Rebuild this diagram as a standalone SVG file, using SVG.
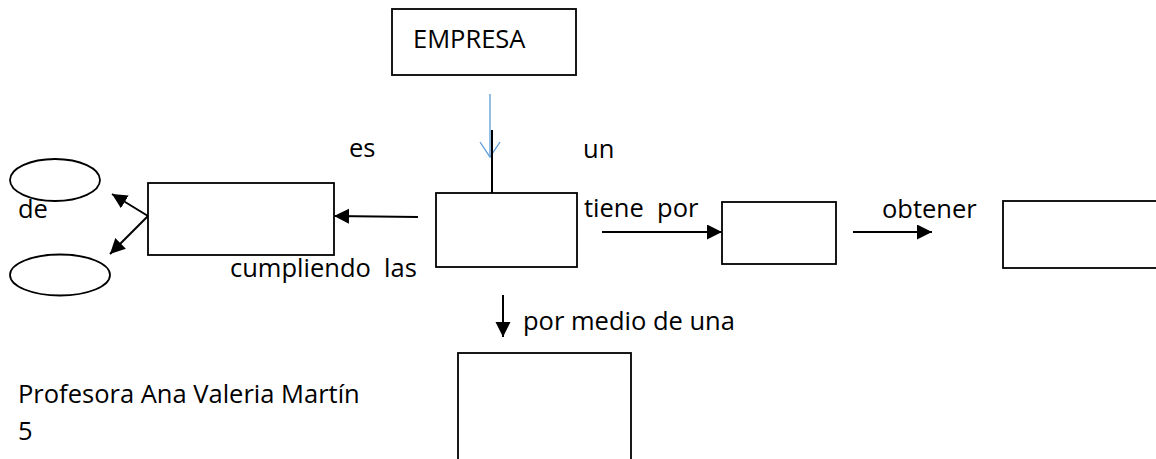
<svg xmlns="http://www.w3.org/2000/svg" width="1156" height="459" viewBox="0 0 1156 459">
<style>
  .box { fill: #ffffff; stroke: #000000; stroke-width: 1.8; }
  .lbl { font-family: "Open Sans", "Noto Sans", sans-serif; font-size: 25.5px; fill: #000000; white-space: pre; }
  .conn { stroke: #000000; stroke-width: 2; fill: none; }
  .blue { stroke: #5b9bd5; stroke-width: 1.3; fill: none; }
</style>
<defs>
  <marker id="arr" markerUnits="userSpaceOnUse" markerWidth="16" markerHeight="16" refX="15" refY="7.5" orient="auto" viewBox="0 0 16 16">
    <path d="M0,0 L15,7.5 L0,15 z" fill="#000000"/>
  </marker>
</defs>
<rect width="1156" height="459" fill="#ffffff"/>

<g id="connectors">
  <line class="blue" x1="490" y1="94" x2="490" y2="157"/>
  <polyline class="blue" points="480,142 490,157 500,142"/>
  <line class="conn" x1="492" y1="130" x2="492" y2="193"/>
  <line class="conn" x1="418" y1="217" x2="334" y2="216" marker-end="url(#arr)"/>
  <line class="conn" x1="148" y1="216" x2="112" y2="194" marker-end="url(#arr)"/>
  <line class="conn" x1="148" y1="216" x2="110" y2="254" marker-end="url(#arr)"/>
  <line class="conn" x1="602" y1="232" x2="722" y2="232" marker-end="url(#arr)"/>
  <line class="conn" x1="853" y1="232" x2="932" y2="232" marker-end="url(#arr)"/>
  <line class="conn" x1="503" y1="295" x2="503" y2="337" marker-end="url(#arr)"/>
</g>

<g id="empresa">
  <rect class="box" x="392" y="9" width="184" height="66"/>
  <text class="lbl" x="413" y="48">EMPRESA</text>
</g>
<g id="central">
  <rect class="box" x="436" y="193" width="141" height="74"/>
</g>
<g id="left-box">
  <rect class="box" x="148" y="183" width="186" height="72"/>
</g>
<g id="ellipse-top">
  <ellipse class="box" cx="55" cy="180" rx="45" ry="21"/>
</g>
<g id="ellipse-bottom">
  <ellipse class="box" cx="60" cy="275" rx="50" ry="20.5"/>
</g>
<g id="middle-box">
  <rect class="box" x="722" y="202" width="114" height="62"/>
</g>
<g id="right-box">
  <rect class="box" x="1003" y="201" width="170" height="67"/>
</g>
<g id="bottom-box">
  <rect class="box" x="458" y="353" width="173" height="120"/>
</g>

<g id="labels">
  <text class="lbl" x="349" y="157">es</text>
  <text class="lbl" x="583" y="158">un</text>
  <text class="lbl" x="18" y="218">de</text>
  <text class="lbl" x="230" y="277">cumpliendo  las</text>
  <text class="lbl" x="584" y="217">tiene  por</text>
  <text class="lbl" x="882" y="218">obtener</text>
  <text class="lbl" x="523" y="330">por medio de una</text>
  <text class="lbl" x="18" y="403">Profesora Ana Valeria Martín</text>
  <text class="lbl" x="18" y="440">5</text>
</g>
</svg>
